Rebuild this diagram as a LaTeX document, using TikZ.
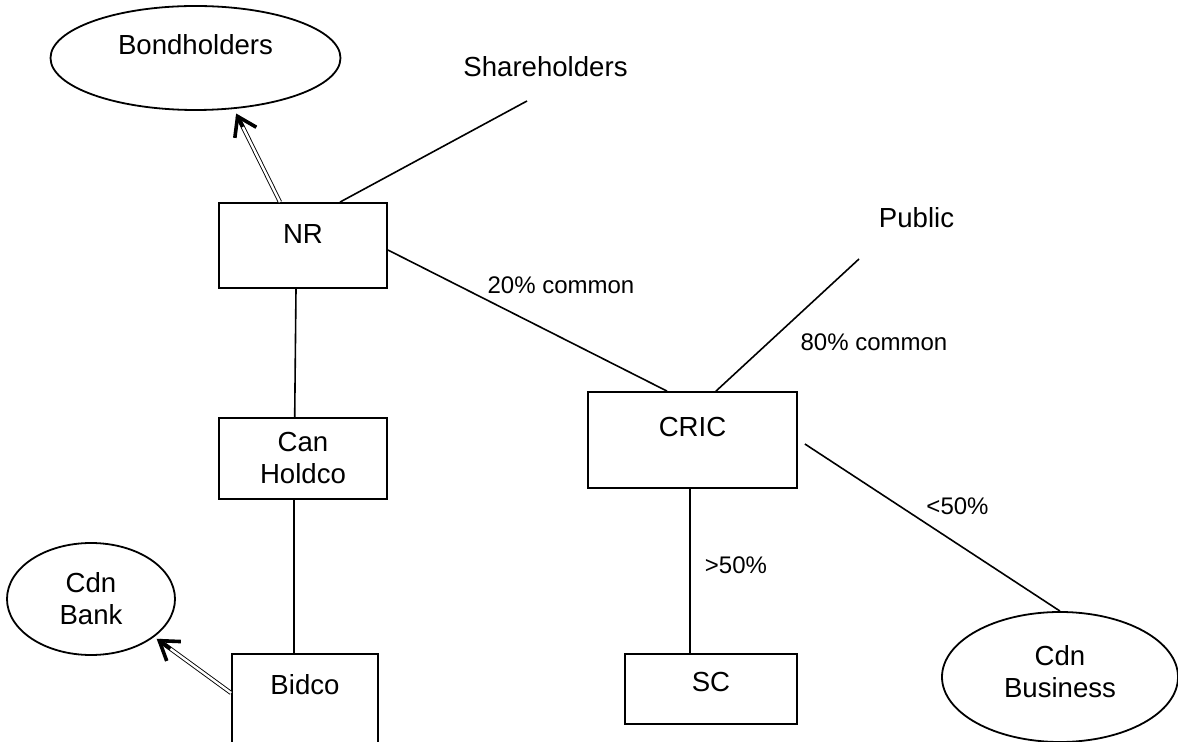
\documentclass[tikz,border=0pt]{standalone}
\usepackage{fontspec}
\setmainfont{Liberation Sans}
\usetikzlibrary{arrows.meta,shapes.geometric,calc}

\begin{document}
\begin{tikzpicture}[x=0.5pt,y=0.5pt,yscale=-1,
	entity/.style={draw, line width=0.9pt, inner sep=0pt, align=center, font=\fontsize{13.8}{16}\selectfont},
	party/.style={entity, ellipse},
	toptxt/.style={anchor=base, inner sep=0pt, font=\fontsize{13.8}{16}\selectfont},
	lbl/.style={anchor=base, inner sep=0pt, font=\fontsize{12}{14}\selectfont},
	link/.style={line width=0.8pt},
	claim/.style={line width=0.45pt, double distance=1.2pt},
	claimhead/.style={draw, line width=1.8pt, -{Straight Barb[length=9pt,width=12pt,line width=1.8pt]}}]
	\useasboundingbox (0,0) rectangle (1178,742);

	% Text Node
	\node[party, minimum width=145pt, minimum height=52pt, text height=9.9pt, text depth=13.5pt] (bond) at (195.5,58) {Bondholders};
	% Text Node
	\node[entity, minimum width=84pt, minimum height=42.5pt, text height=9.9pt, text depth=12pt] (nr) at (303,245.5) {NR};
	% Text Node
	\node[entity, minimum width=84pt, minimum height=40.5pt] (can) at (303,458.5) {Can\\Holdco};
	% Text Node
	\node[entity, minimum width=73pt, minimum height=58pt, text height=9.9pt, text depth=27pt] (bidco) at (305,712) {Bidco};
	% Text Node
	\node[party, minimum width=84pt, minimum height=56pt] (bank) at (91,599) {Cdn\\Bank};
	% Text Node
	\node[entity, minimum width=104.5pt, minimum height=48pt, text height=9.9pt, text depth=13pt] (cric) at (692.5,440) {CRIC};
	% Text Node
	\node[entity, minimum width=86pt, minimum height=35pt, text height=9.9pt, text depth=7pt] (sc) at (711,689) {SC};
	% Text Node
	\node[party, minimum width=118pt, minimum height=65pt, text depth=5pt] (biz) at (1060,677) {Cdn\\Business};

	% Text Node
	\node[toptxt] (shr) at (545.5,77) {Shareholders};
	% Text Node
	\node[toptxt] (pub) at (916.5,228) {Public};
	% Text Node
	\node[lbl] (nrpct) at (561,294) {20\% common};
	% Text Node
	\node[lbl] (pubpct) at (874,351) {80\% common};
	% Text Node
	\node[lbl] (scpct) at (736,574) {>50\%};
	% Text Node
	\node[lbl] (bizpct) at (957.5,515) {<50\%};

	\coordinate (shrend) at (527,101);
	\coordinate (pubend) at (859,259);

	% Connection
	\draw[link] ($(nr.north)+(37,0)$) -- (shrend);
	% Connection
	\draw[claim, shorten >=4pt] ($(nr.north)+(-23,0)$) -- (bond.-53);
	\draw[claimhead, shorten >=2.5pt] ($(bond.-53)!10pt!($(nr.north)+(-23,0)$)$) -- (bond.-53);
	% Connection
	\draw[link] ($(nr.south)+(-7,0)$) -- ($(can.north)+(-8.3,0)$);
	% Connection
	\draw[link] ($(can.south)+(-9,0)$) -- ($(bidco.north)+(-11,0)$);
	% Connection
	\draw[claim, shorten >=3pt] ($(bidco.west)+(0,-19)$) -- (bank.-31);
	\draw[claimhead, shorten >=1.5pt] ($(bank.-31)!10pt!($(bidco.west)+(0,-19)$)$) -- (bank.-31);
	% Connection
	\draw[link] ($(nr.east)+(0,4.5)$) -- ($(cric.north)+(-25.5,0)$);
	% Connection
	\draw[link] ($(cric.north)+(23.5,0)$) -- (pubend);
	% Connection
	\draw[link] ($(cric.south)+(-2.5,0)$) -- ($(sc.north)+(-21,0)$);
	% Connection
	\draw[link] ($(cric.east)+(7,4)$) -- (biz.north);

\end{tikzpicture}
\end{document}
